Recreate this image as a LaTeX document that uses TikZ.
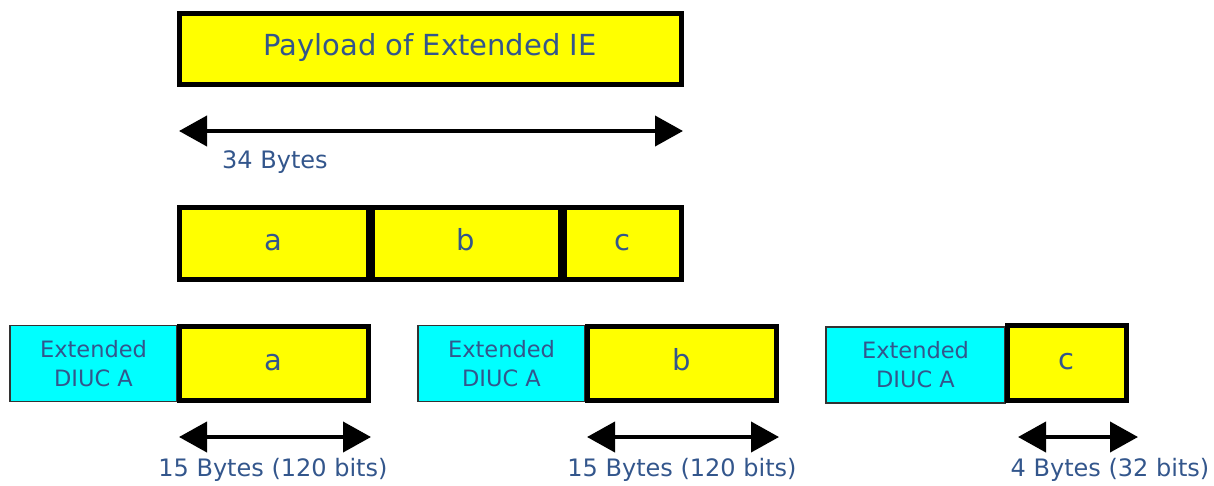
\documentclass[tikz,border=0pt]{standalone}
\usepackage{fontspec}
\setmainfont{DejaVu Sans}
\usetikzlibrary{arrows.meta}
\definecolor{txt}{RGB}{51,86,140}
\definecolor{ylw}{RGB}{255,255,0}
\definecolor{cyn}{RGB}{0,255,255}
\tikzset{
  ybox/.style={draw=black, line width=5pt, fill=ylw, inner sep=0pt, text=txt, text height=21pt, text depth=7pt, font=\fontsize{29}{33}\selectfont},
  cbox/.style={draw=black!80, line width=1.3pt, fill=cyn, inner sep=0pt, text=txt, align=center, font=\fontsize{22.5}{29}\selectfont},
  dim/.style={line width=4pt, {Triangle[length=28pt,width=30pt]}-{Triangle[length=28pt,width=30pt]}},
  lbl/.style={text=txt, inner sep=0pt, font=\fontsize{24}{28}\selectfont},
}
\begin{document}
\begin{tikzpicture}[x=1pt,y=-1pt]
\useasboundingbox (0,0) rectangle (1214,485);
% top
\node[ybox, minimum width=502pt, minimum height=71pt] (pay) at (430,48.5) {Payload of Extended IE};
\coordinate (p1) at (179,131);
\coordinate (p2) at (683,131);
\draw[dim] (p1) -- (p2);
\node[lbl, anchor=west] (l34) at (222,162) {34 Bytes};
% row 2
\node[ybox, minimum width=189pt, minimum height=72pt] (ra) at (273.5,243) {a};
\node[ybox, minimum width=188pt, minimum height=72pt] (rb) at (466,243) {b};
\node[ybox, minimum width=117pt, minimum height=72pt] (rc) at (622.5,243) {c};
% row 3
\node[cbox, minimum width=167pt, minimum height=76pt] (ea) at (93.5,363.5) {Extended\\DIUC A};
\node[ybox, minimum width=189pt, minimum height=74pt] (ya) at (273.5,363) {a};
\node[cbox, minimum width=167pt, minimum height=76pt] (eb) at (501.5,363.5) {Extended\\DIUC A};
\node[ybox, minimum width=189pt, minimum height=74pt] (yb) at (681.5,363) {b};
\node[cbox, minimum width=179pt, minimum height=76pt] (ec) at (915.5,365) {Extended\\DIUC A};
\node[ybox, minimum width=119pt, minimum height=75pt] (yc) at (1066.5,362.5) {c};
\coordinate (a1) at (179,437);
\coordinate (a2) at (371,437);
\coordinate (b1) at (587,437);
\coordinate (b2) at (779,437);
\coordinate (c1) at (1018,437);
\coordinate (c2) at (1138,437);
\draw[dim] (a1) -- (a2);
\draw[dim] (b1) -- (b2);
\draw[dim] (c1) -- (c2);
\node[lbl] (la) at (273,470) {15 Bytes (120 bits)};
\node[lbl] (lb) at (682,470) {15 Bytes (120 bits)};
\node[lbl] (lc) at (1110,470) {4 Bytes (32 bits)};
\end{tikzpicture}
\end{document}
